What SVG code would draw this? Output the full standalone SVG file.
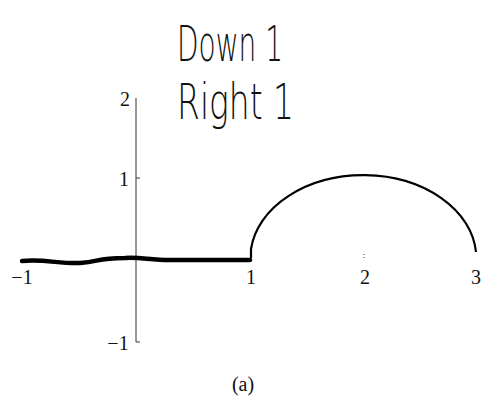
<svg xmlns="http://www.w3.org/2000/svg" width="483" height="403" viewBox="0 0 483 403">
<style>
.num{font-family:"Liberation Serif",serif;font-size:20px;fill:#111;text-anchor:middle}
.hand{font-family:"DejaVu Sans",sans-serif;font-size:50px;font-weight:200;fill:#111}
.axis{stroke:#333;stroke-width:1;fill:none}
</style>
<rect width="483" height="403" fill="#fff"/>
<g id="title">
<text class="hand" x="177" y="61" textLength="106" lengthAdjust="spacingAndGlyphs">Down 1</text>
<text class="hand" x="177" y="119" textLength="117" lengthAdjust="spacingAndGlyphs">Right 1</text>
</g>
<g id="axes">
<line class="axis" x1="136" y1="98" x2="136" y2="342"/>
<line class="axis" x1="136" y1="178" x2="140" y2="178"/>
<line class="axis" x1="136" y1="342" x2="140" y2="342"/>
<line class="axis" x1="364" y1="254" x2="364" y2="258" stroke-dasharray="1 2"/>
</g>
<g id="labels">
<text class="num" x="125" y="106">2</text>
<text class="num" x="124" y="186">1</text>
<text class="num" x="118" y="350">−1</text>
<text class="num" x="22" y="284">−1</text>
<text class="num" x="251" y="284">1</text>
<text class="num" x="365" y="284">2</text>
<text class="num" x="476" y="284">3</text>
<text class="num" x="243" y="391">(a)</text>
</g>
<g id="curve">
<path d="M22,261 C45,259 60,264 80,263 C100,262 95,258 125,258 C140,257 150,260 170,260 L250,260" fill="none" stroke="#000" stroke-width="4.5" stroke-linecap="round"/>
<path d="M251,258 L251,249 A113,83 0 0 1 476,252" fill="none" stroke="#000" stroke-width="2.2"/>
</g>
</svg>
